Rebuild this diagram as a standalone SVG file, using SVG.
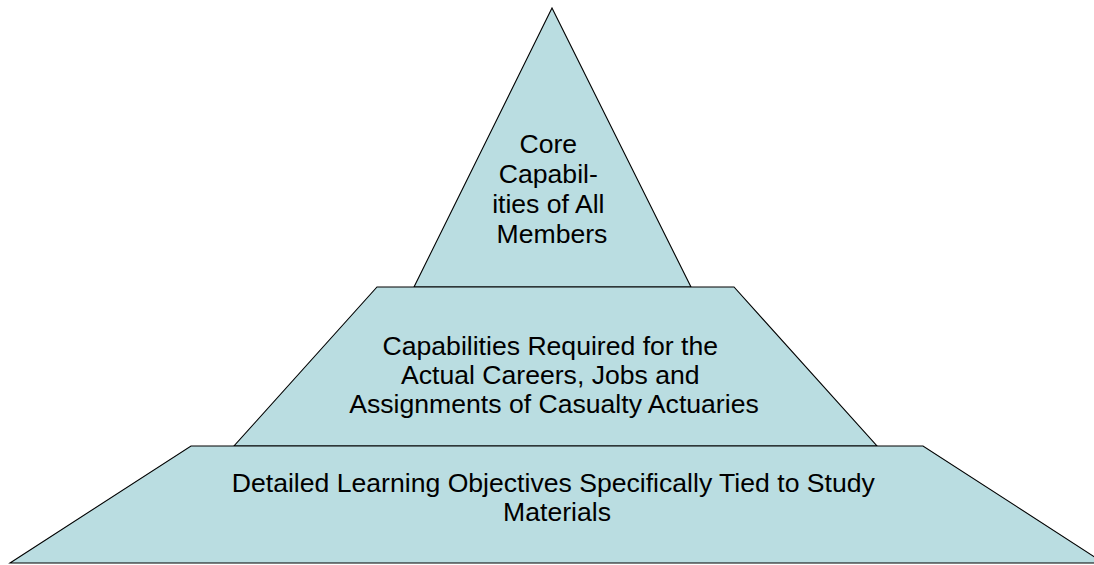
<svg xmlns="http://www.w3.org/2000/svg" width="1094" height="565" viewBox="0 0 1094 565">
  <style>
    .tier { fill: #BADDE1; stroke: #000000; stroke-width: 1.1; stroke-linejoin: miter; }
    .label { font-family: "Liberation Sans", Arial, sans-serif; font-size: 26.6px; fill: #000000; text-anchor: middle; }
  </style>
  <rect x="0" y="0" width="1094" height="565" fill="#FFFFFF"/>

  <!-- Pyramid tiers, drawn top to bottom so lower tiers overlap the edge above -->
  <g id="tier-top">
    <polygon class="tier" points="552,8 691,287 414,287"/>
    <text class="label">
      <tspan x="552" y="153">Core</tspan>
      <tspan x="552" y="183">Capabil-</tspan>
      <tspan x="552" y="213">ities of All</tspan>
      <tspan x="552" y="243">Members</tspan>
    </text>
  </g>

  <g id="tier-middle">
    <polygon class="tier" points="377,287 734,287 877,446 234,446"/>
    <text class="label">
      <tspan x="554" y="355">Capabilities Required for the</tspan>
      <tspan x="554" y="384">Actual Careers, Jobs and</tspan>
      <tspan x="554" y="413">Assignments of Casualty Actuaries</tspan>
    </text>
  </g>

  <g id="tier-bottom">
    <polygon class="tier" points="191,446 923,446 1104,563 10,563"/>
    <text class="label">
      <tspan x="557" y="492">Detailed Learning Objectives Specifically Tied to Study</tspan>
      <tspan x="557" y="521">Materials</tspan>
    </text>
  </g>

  <g id="connectors"/>
</svg>
